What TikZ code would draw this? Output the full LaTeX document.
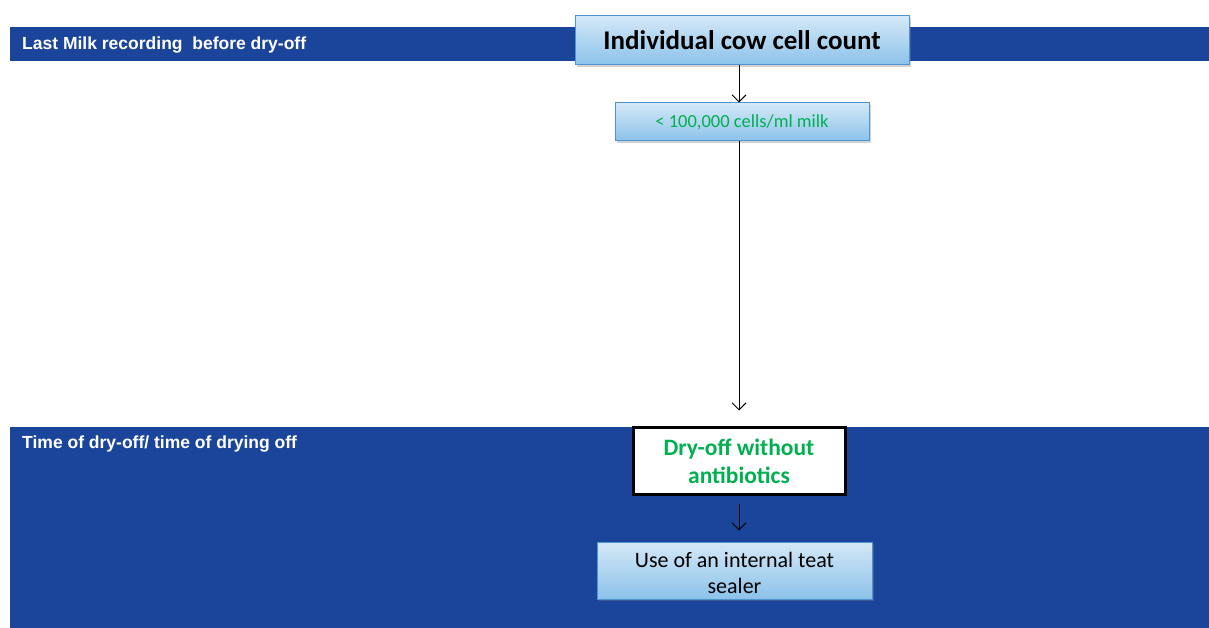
\documentclass[tikz,border=0pt]{standalone}
\usepackage{fontspec}
\setmainfont{Carlito}
\newfontfamily\bandfont{Liberation Sans}
\usetikzlibrary{arrows.meta,shadows}
\definecolor{bandblue}{HTML}{1B459B}
\definecolor{boxtop}{HTML}{D4E8F7}
\definecolor{boxbot}{HTML}{8CC2EA}
\definecolor{boxedge}{HTML}{4F94CF}
\definecolor{okgreen}{HTML}{00B050}
% two centred lines, lowered by #1 without changing the box the node sees
\newcommand{\twolines}[3]{\raisebox{#1}[\height][\depth]{\begin{tabular}{@{}c@{}}#2\\#3\end{tabular}}}
\tikzset{
  band/.style={fill=bandblue, draw=none},
  bandlabel/.style={anchor=west, text=white, inner sep=0pt, font=\bandfont\bfseries\fontsize{17.5}{20}\selectfont},
  bluebox/.style={draw=boxedge, line width=1pt, top color=boxtop, bottom color=boxbot,
    drop shadow={shadow xshift=1.5pt, shadow yshift=-2pt, opacity=0.35}, inner sep=0pt, align=center},
  whitebox/.style={draw=black, line width=3pt, fill=white, inner sep=0pt, align=center},
  flow/.style={-{Straight Barb[length=7pt,width=14pt]}, line width=1pt, black}
}
\begin{document}
\begin{tikzpicture}[x=1pt,y=-1pt]
\useasboundingbox (0,0) rectangle (1209,628);
\fill[white] (0,0) rectangle (1209,628);
% phase bands
\fill[band] (10,27) rectangle (1209,61);
\fill[band] (10,427) rectangle (1209,628);
\node[bandlabel] (lbltop) at (22,45.5) {Last Milk recording\ \ before dry-off};
\node[bandlabel] (lblbot) at (22,444.5) {Time of dry-off/ time of drying off};
% decision steps
\node[bluebox, minimum width=334pt, minimum height=49pt,
  font=\bfseries\fontsize{27}{30}\selectfont] (count) at (742,40.5) {Individual cow cell count};
\node[bluebox, minimum width=254pt, minimum height=38pt, text=okgreen,
  font=\fontsize{18.5}{22}\selectfont] (low) at (742,122) {< 100,000 cells/ml milk};
\node[whitebox, minimum width=212pt, minimum height=67pt, text=okgreen,
  font=\bfseries\fontsize{23.5}{28}\selectfont] (dry) at (739,460.5) {\twolines{-3pt}{Dry-off without}{antibiotics}};
\node[bluebox, minimum width=275pt, minimum height=57pt,
  font=\fontsize{22}{26}\selectfont] (seal) at (734.5,570.5) {\twolines{-5pt}{Use of an internal teat}{sealer}};
% connectors
\draw[flow] (count.south -| 739,0) -- (low.north -| 739,0);
\draw[flow, shorten >=15pt] (low.south -| 739,0) -- (dry.north -| 739,0);
\draw[flow, shorten <=8pt, shorten >=11pt] (dry.south -| 739,0) -- (seal.north -| 739,0);
\end{tikzpicture}
\end{document}
